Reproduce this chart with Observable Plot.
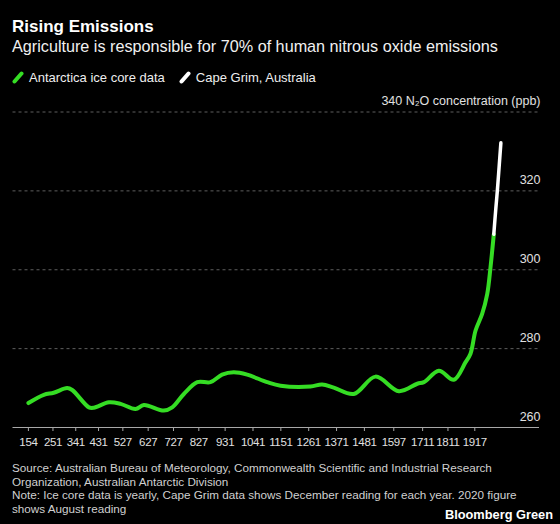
<!DOCTYPE html>
<html><head><meta charset="utf-8">
<script src="https://cdn.jsdelivr.net/npm/d3@7"></script>
<script src="https://cdn.jsdelivr.net/npm/@observablehq/plot@0.6"></script>
<style>
body{margin:0;background:#000;}
#wrap{position:relative;width:560px;height:524px;background:#000;font-family:"Liberation Sans",Arial,Helvetica,sans-serif;color:#fff;overflow:hidden;}
.t{position:absolute;white-space:nowrap;line-height:1;}
#title{left:12px;top:18px;font-size:17px;font-weight:bold;color:#fff;}
#subtitle{left:12px;top:38px;font-size:16.2px;color:#f0f0f0;}
#legend{left:12px;top:71px;font-size:13px;color:#eee;}
#legend span.item{display:inline-block;margin-right:14px;}
#legend svg{vertical-align:-2px;margin-right:5px;}
#chart{position:absolute;left:0;top:90px;}
.foot{left:12px;font-size:11.7px;color:#d0d0d0;}
#brand{right:7px;top:509px;font-size:12.8px;font-weight:bold;color:#fff;}
#chart g[aria-label="x-axis tick label"] text{letter-spacing:-0.35px;}
</style></head><body>
<div id="wrap">
  <div class="t" id="title">Rising Emissions</div>
  <div class="t" id="subtitle">Agriculture is responsible for 70% of human nitrous oxide emissions</div>
  <div class="t" id="legend"></div>
  <div id="chart"></div>
  <div class="t foot" style="top:462px">Source: Australian Bureau of Meteorology, Commonwealth Scientific and Industrial Research</div>
  <div class="t foot" style="top:475.5px">Organization, Australian Antarctic Division</div>
  <div class="t foot" style="top:489px">Note: Ice core data is yearly, Cape Grim data shows December reading for each year. 2020 figure</div>
  <div class="t foot" style="top:502.5px">shows August reading</div>
  <div class="t" id="brand">Bloomberg Green</div>
</div>
<script>
const seriesNames = ["Antarctica ice core data", "Cape Grim, Australia"];
const seriesColors = ["#35dd24", "#ffffff"];

const iceYears = [154, 215, 254, 307, 327, 393, 412, 472, 518, 577, 610, 689, 722, 768, 821, 873, 919, 965, 1018, 1097, 1150, 1268, 1314, 1360, 1439, 1525, 1617, 1690, 1716, 1775, 1834, 1880, 1900, 1920, 1946, 1966, 1979, 1992];
const iceValues = [266.2, 268.3, 268.8, 270.0, 269.5, 265.1, 265.0, 266.4, 266.0, 264.7, 265.7, 264.3, 265.1, 268.5, 271.5, 271.5, 273.4, 274.0, 273.4, 271.5, 270.6, 270.4, 270.9, 270.1, 268.5, 272.9, 269.2, 271.1, 271.5, 274.4, 272.1, 276.5, 278.7, 284.6, 288.8, 293.8, 300.6, 309.0];

const capeYears = [1992, 2000, 2006, 2013, 2020];
const capeValues = [309.0, 315.5, 320.0, 326.0, 332.2];

const xTicks = [154, 251, 341, 431, 527, 627, 727, 827, 931, 1041, 1151, 1261, 1371, 1481, 1597, 1711, 1811, 1917];
const yTicks = [260, 280, 300, 320, 340];
const yTickLabels = ["260", "280", "300", "320", "340 N\u2082O concentration (ppb)"];

// legend
const legend = document.getElementById("legend");
seriesNames.forEach((name, i) => {
  const span = document.createElement("span");
  span.className = "item";
  span.innerHTML = `<svg width="12" height="13"><line x1="2.5" y1="10.5" x2="9.5" y2="2.5" stroke="${seriesColors[i]}" stroke-width="4" stroke-linecap="round"/></svg>${name}`;
  legend.appendChild(span);
});

const ice = iceYears.map((y, i) => ({year: y, value: iceValues[i]}));
const cape = capeYears.map((y, i) => ({year: y, value: capeValues[i]}));

const chart = Plot.plot({
  width: 560,
  height: 370,
  marginLeft: 12.5,
  marginRight: 21,
  marginTop: 0,
  marginBottom: 33,
  style: {background: "transparent", color: "#ddd", fontFamily: '"Liberation Sans", Arial, sans-serif', fontSize: "12px", overflow: "visible"},
  x: {domain: [154, 1917], range: [27.9, 474.3], label: null},
  y: {domain: [260, 340], range: [337, 21.5], axis: null, label: null},
  marks: [
    Plot.ruleY(yTicks.filter(d => d > 260), {stroke: "#5e5e5e", strokeDasharray: "3,3", strokeWidth: 1}),
    Plot.ruleY([260], {stroke: "#a8a8a8", strokeWidth: 1.2}),
    Plot.axisX({ticks: xTicks, tickSize: 4, tickPadding: 6, stroke: "#a8a8a8", fill: "#e0e0e0", fontSize: 11.5, label: null, tickFormat: d => String(d)}),
    Plot.text(yTicks, {y: d => d, text: (d, i) => yTickLabels[i], frameAnchor: "right", textAnchor: "end", lineAnchor: "bottom", dy: -7, dx: 1, fill: "#e0e0e0", fontSize: 12.5}),
    Plot.line(ice, {x: "year", y: "value", stroke: seriesColors[0], strokeWidth: 4, curve: "catmull-rom", strokeLinecap: "round", strokeLinejoin: "round"}),
    Plot.line(cape, {x: "year", y: "value", stroke: seriesColors[1], strokeWidth: 3.5, curve: "catmull-rom", strokeLinecap: "round"})
  ]
});
document.getElementById("chart").appendChild(chart);
</script>
</body></html>
